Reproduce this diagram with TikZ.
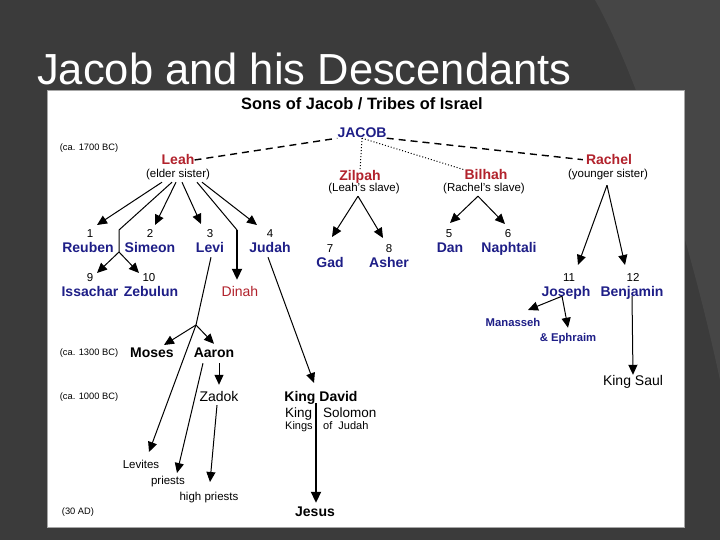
\documentclass[tikz,border=0pt]{standalone}
\usepackage{fontspec}
\setmainfont{Liberation Sans}
\usetikzlibrary{arrows.meta,calc}
\definecolor{slidegray}{RGB}{59,59,59}
\definecolor{slidelight}{RGB}{70,70,70}
\definecolor{tribeblue}{RGB}{30,30,135}
\definecolor{wifered}{RGB}{178,34,44}

\begin{document}
\begin{tikzpicture}[x=1pt, y=-1pt, every node/.style={inner sep=0pt},
	heading/.style={font=\fontsize{16.4}{18}\selectfont\bfseries, text height=11.7pt, text depth=0pt},
	son/.style={text=tribeblue, font=\fontsize{14}{16}\selectfont\bfseries, text height=10pt, text depth=0pt},
	smallson/.style={text=tribeblue, font=\fontsize{11.3}{13}\selectfont\bfseries, text height=8.1pt, text depth=0pt},
	wife/.style={text=wifered, font=\fontsize{14}{16}\selectfont\bfseries, text height=10pt, text depth=0pt},
	num/.style={font=\fontsize{11.5}{12}\selectfont, text height=8.2pt, text depth=0pt},
	note/.style={font=\fontsize{11.5}{13}\selectfont, text height=8.5pt, text depth=2.5pt, inner ysep=1.5pt},
	era/.style={font=\fontsize{9.3}{10}\selectfont, text height=6.7pt, text depth=0pt},
	person/.style={font=\fontsize{14}{16}\selectfont\bfseries, text height=10pt, text depth=0pt},
	later/.style={font=\fontsize{14}{16}\selectfont, text height=10pt, text depth=0pt},
	small/.style={font=\fontsize{11.5}{13}\selectfont, text height=8.3pt, text depth=0pt},
	arr/.style={-{Triangle[length=10pt,width=9pt]}, line width=1pt},
	bigarr/.style={-{Triangle[length=11pt,width=10pt]}, line width=1.9pt},
	wed/.style={line width=1.4pt, dash pattern=on 7pt off 5pt},
	slave/.style={line width=1pt, dotted}]

\fill[slidegray] (0,0) rectangle (720,540);
\fill[slidelight] (595,0) .. controls (640,80) and (690,240) .. (720,380) -- (720,0) -- cycle;
\node[anchor=base west, text=white, font=\fontsize{43.5}{48}\selectfont] (title) at (37,85) {Jacob and his Descendants};
\draw[fill=white, draw=gray!70] (47,90) rectangle (684,527);

\node[heading] (head) at (362,104) {Sons of Jacob / Tribes of Israel};
\node[son] (jacob) at (362,133) {JACOB};
\node[era] (era1) at (89,147) {(ca. 1700 BC)};
\node[era] (era2) at (89,352) {(ca. 1300 BC)};
\node[era] (era3) at (89,396) {(ca. 1000 BC)};
\node[era] (era4) at (78,511) {(30 AD)};

\node[wife] (leah) at (178,160) {Leah};
\node[note] (leahnote) at (178,175) {(elder sister)};
\node[wife] (zilpah) at (360,176) {Zilpah};
\node[note] (zilpahnote) at (364,189) {(Leah's slave)};
\node[wife] (bilhah) at (486,175) {Bilhah};
\node[note] (bilhahnote) at (484,189) {(Rachel's slave)};
\node[wife] (rachel) at (609,160) {Rachel};
\node[note] (rachelnote) at (608,175) {(younger sister)};

\node[num] (n1) at (90,233) {1};
\node[son] (reuben) at (88,247) {Reuben};
\node[num] (n2) at (150,233) {2};
\node[son] (simeon) at (150,247) {Simeon};
\node[num] (n3) at (210,233) {3};
\node[son] (levi) at (210,247) {Levi};
\node[num] (n4) at (270,233) {4};
\node[son] (judah) at (270,247) {Judah};
\node[num] (n5) at (449,233) {5};
\node[son] (dan) at (450,247) {Dan};
\node[num] (n6) at (508,233) {6};
\node[son] (naphtali) at (509,247) {Naphtali};
\node[num] (n7) at (330,248) {7};
\node[son] (gad) at (330,262) {Gad};
\node[num] (n8) at (389,248) {8};
\node[son] (asher) at (389,262) {Asher};
\node[num] (n9) at (90,277) {9};
\node[son] (issachar) at (90,291) {Issachar};
\node[num] (n10) at (149,277) {10};
\node[son] (zebulun) at (151,291) {Zebulun};
\node[num] (n11) at (569,277) {11};
\node[son] (joseph) at (566,291) {Joseph};
\node[num] (n12) at (633,277) {12};
\node[son] (benjamin) at (632,291) {Benjamin};
\node[later, text=wifered] (dinah) at (240,291) {Dinah};
\node[smallson] (manasseh) at (513,322) {Manasseh};
\node[smallson] (ephraim) at (568,337) {\& Ephraim};
\node[later] (kingsaul) at (633,380) {King Saul};

\node[person] (moses) at (152,352) {Moses};
\node[person] (aaron) at (214,352) {Aaron};
\node[later] (zadok) at (219,396) {Zadok};
\node[person] (kingdavid) at (321,396) {King David};
\node[later, anchor=west, font=\fontsize{13.5}{15}\selectfont] (king) at (285,412) {King};
\node[later, anchor=west, font=\fontsize{13.5}{15}\selectfont] (solomon) at (323,412) {Solomon};
\node[small, anchor=west, font=\fontsize{11}{12}\selectfont] (kings) at (285,425) {Kings};
\node[small, anchor=west, font=\fontsize{11}{12}\selectfont] (ofjudah) at (323,425) {of\ \ Judah};
\node[small] (levites) at (141,464) {Levites};
\node[small] (priests) at (168,480) {priests};
\node[small] (highpriests) at (209,496) {high priests};
\node[person] (jesus) at (315,511) {Jesus};

\coordinate (isbend) at (119,230);
\coordinate (isbranch) at (119,252);
\coordinate (dinahbend) at (237,230);
\coordinate (levibranch) at (196,325);

\draw[wed] (leah.east) -- (jacob.south west);
\draw[wed, shorten >=3pt] (jacob.south east) -- (rachel.west);
\draw[slave] (jacob.south) -- (zilpah.north);
\draw[slave] (jacob.south) -- (bilhah.north west);

\draw[arr] ([xshift=-16pt]leahnote.south) -- ($(n1)+(7,-8)$);
\draw[line width=1pt] ([xshift=-6pt]leahnote.south) -- (isbend) -- (isbranch);
\draw[arr] (isbranch) -- ($(n9)+(7,-4)$);
\draw[arr] (isbranch) -- ($(n10)+(-10,-4)$);
\draw[arr] ([xshift=-2pt]leahnote.south) -- ($(n2)+(5,-8)$);
\draw[arr] ([xshift=4pt]leahnote.south) -- ($(n3)+(-9,-9)$);
\draw[line width=1pt] ([xshift=19pt]leahnote.south) -- (dinahbend);
\draw[bigarr] (dinahbend) -- ($(dinah.north)+(-3,-6)$);
\draw[arr] ([xshift=24pt]leahnote.south) -- ($(n4)+(-13,-8)$);

\draw[arr] ([xshift=-6pt]zilpahnote.south) -- ($(n7)+(2,-11)$);
\draw[arr] ([xshift=-6pt]zilpahnote.south) -- ($(n8)+(-6,-10)$);
\draw[arr] ([xshift=-6pt]bilhahnote.south) -- ($(n5)+(1,-10)$);
\draw[arr] ([xshift=-6pt]bilhahnote.south) -- ($(n6)+(-3,-9)$);
\draw[arr] ($(rachelnote.south)+(-1,3)$) -- ($(n11)+(9,-12)$);
\draw[arr] ($(rachelnote.south)+(-1,3)$) -- ($(n12)+(-8,-12)$);

\draw[arr] ([xshift=-4pt]joseph.south) -- ($(manasseh)+(15,-12)$);
\draw[arr] ([xshift=-4pt]joseph.south) -- ($(ephraim.north)+(0,-5)$);
\draw[arr] (benjamin.south) -- (kingsaul.north);

\draw[line width=1pt] ($(levi.south)+(1,5)$) -- (levibranch);
\draw[arr] (levibranch) -- ($(levites)+(8,-12)$);
\draw[arr] (levibranch) -- ($(moses)+(12,-7)$);
\draw[arr] (levibranch) -- ($(aaron.north)+(0,-3)$);
\draw[arr] ($(aaron.south)+(5,6)$) -- ($(zadok.north)+(0,-6)$);
\draw[arr] ($(aaron.south)+(-11,6)$) -- ($(priests)+(9,-7)$);
\draw[arr] ($(zadok.south)+(-2,4)$) -- ($(highpriests)+(1,-14)$);

\draw[arr] ($(judah.south)+(-2,5)$) -- ($(kingdavid)+(-7,-13)$);
\draw[bigarr] ($(kingdavid.south)+(-5,2)$) -- ($(jesus.north)+(1,-3)$);
\end{tikzpicture}
\end{document}
